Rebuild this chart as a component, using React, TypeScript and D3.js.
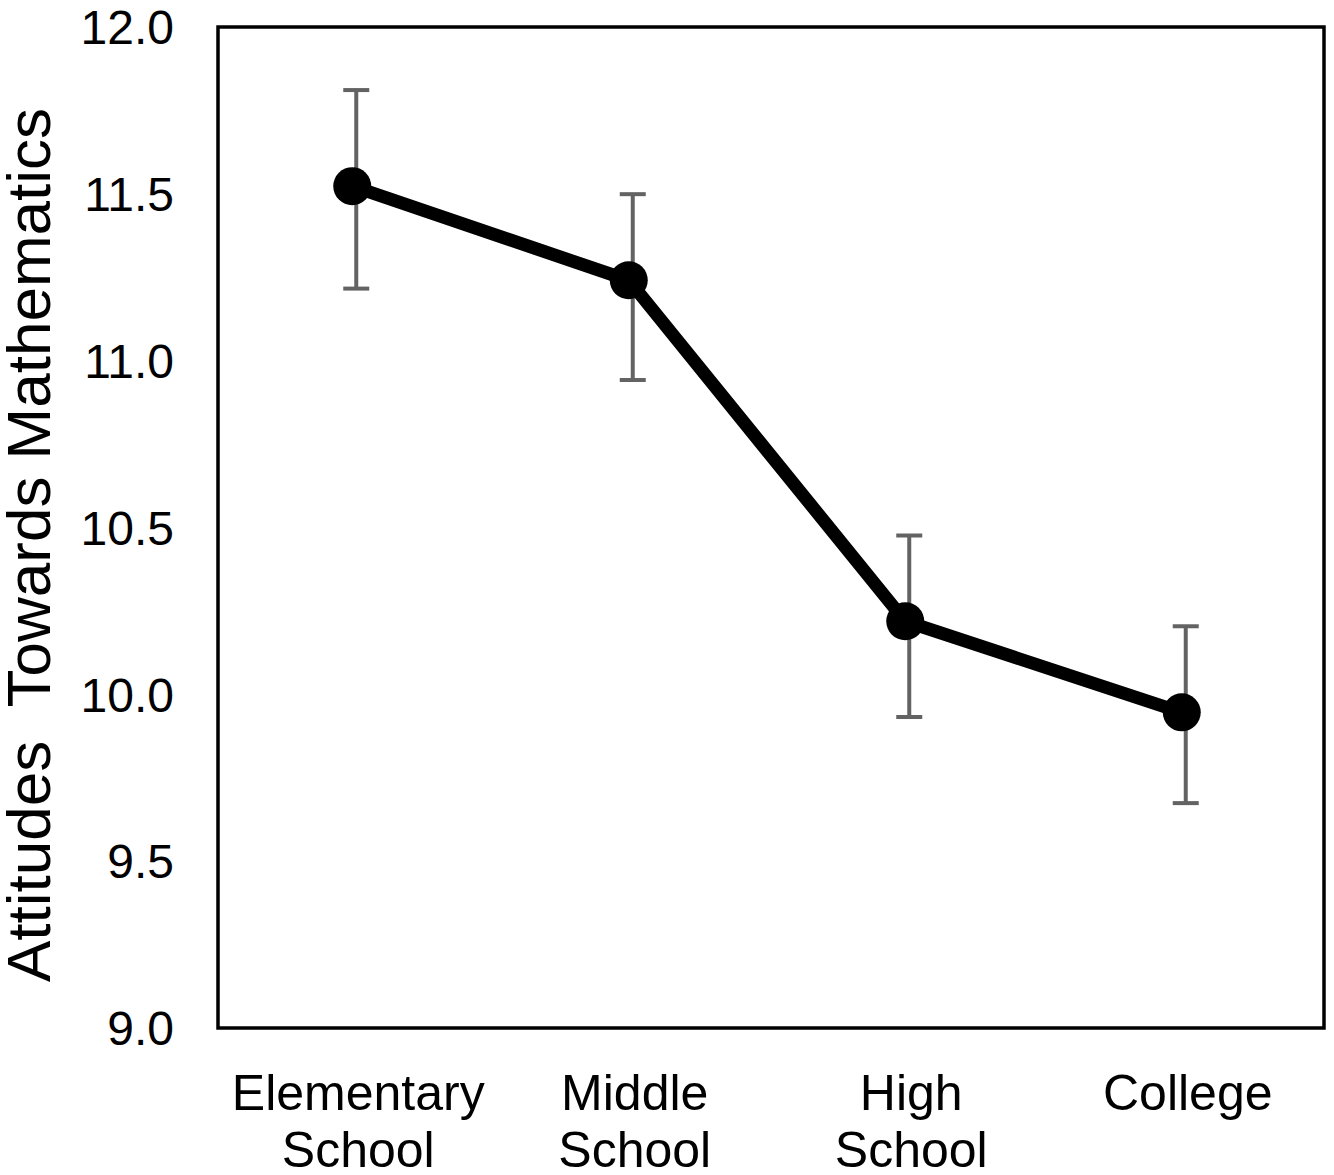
import * as d3 from "d3";

const categories = [
  ["Elementary", "School"],
  ["Middle", "School"],
  ["High", "School"],
  ["College"],
];
const means = [11.523, 11.241, 10.219, 9.946];
const errLow = [11.216, 10.942, 9.932, 9.674];
const errHigh = [11.811, 11.499, 10.476, 10.204];
const yTicks = [9.0, 9.5, 10.0, 10.5, 11.0, 11.5, 12.0];

const width = 1334;
const height = 1175;
const margin = { top: 27, right: 10, bottom: 147, left: 218 };
const font = "'Liberation Sans', Arial, sans-serif";

export default function App() {
  const innerW = width - margin.left - margin.right;
  const innerH = height - margin.top - margin.bottom;

  const x = d3
    .scaleBand<number>()
    .domain(d3.range(categories.length))
    .range([0, innerW]);
  const y = d3.scaleLinear().domain([9, 12]).range([innerH, 0]);
  const cx = (i: number) => x(i)! + x.bandwidth() / 2;
  // markers sit a few pixels left of the error bars in the original
  const mx = (i: number) => cx(i) - 4;

  const line = d3
    .line<number>()
    .x((_, i) => mx(i))
    .y((d) => y(d));

  return (
    <div style={{ position: "absolute", left: 0, top: 0 }}>
      <svg width={width} height={height} style={{ display: "block", background: "#fff" }}>
        <g transform={`translate(${margin.left},${margin.top})`}>
          {/* error bars */}
          {means.map((_, i) => (
            <g key={`err-${i}`} stroke="#636363" strokeWidth={4} fill="none">
              <line x1={cx(i)} x2={cx(i)} y1={y(errLow[i])} y2={y(errHigh[i])} />
              <line x1={cx(i) - 13} x2={cx(i) + 13} y1={y(errLow[i])} y2={y(errLow[i])} />
              <line x1={cx(i) - 13} x2={cx(i) + 13} y1={y(errHigh[i])} y2={y(errHigh[i])} />
            </g>
          ))}

          <path d={line(means) ?? ""} fill="none" stroke="#000" strokeWidth={13} strokeLinejoin="round" />

          {means.map((d, i) => (
            <circle key={`pt-${i}`} cx={mx(i)} cy={y(d)} r={19} fill="#000" />
          ))}

          {/* frame */}
          <rect x={0} y={0} width={innerW} height={innerH} fill="none" stroke="#000" strokeWidth={3.5} />

          {/* y tick labels */}
          {yTicks.map((t) => (
            <text
              key={`yt-${t}`}
              x={-44}
              y={y(t)}
              dy="0.36em"
              textAnchor="end"
              fontFamily={font}
              fontSize={48}
              fill="#000"
            >
              {d3.format(".1f")(t)}
            </text>
          ))}

          {/* x labels */}
          {categories.map((lines, i) => (
            <text
              key={`xl-${i}`}
              x={cx(i) + 2}
              y={innerH + 82}
              textAnchor="middle"
              fontFamily={font}
              fontSize={50}
              fill="#000"
            >
              {lines.map((s, j) => (
                <tspan key={j} x={cx(i) + 2} dy={j === 0 ? 0 : 57}>
                  {s}
                </tspan>
              ))}
            </text>
          ))}
        </g>

        {/* y axis title */}
        <text
          transform={`translate(50,${545}) rotate(-90)`}
          textAnchor="middle"
          fontFamily={font}
          fontSize={62}
          fill="#000"
          style={{ whiteSpace: "pre" }}
        >
          {"Attitudes  Towards Mathematics"}
        </text>
      </svg>
    </div>
  );
}
